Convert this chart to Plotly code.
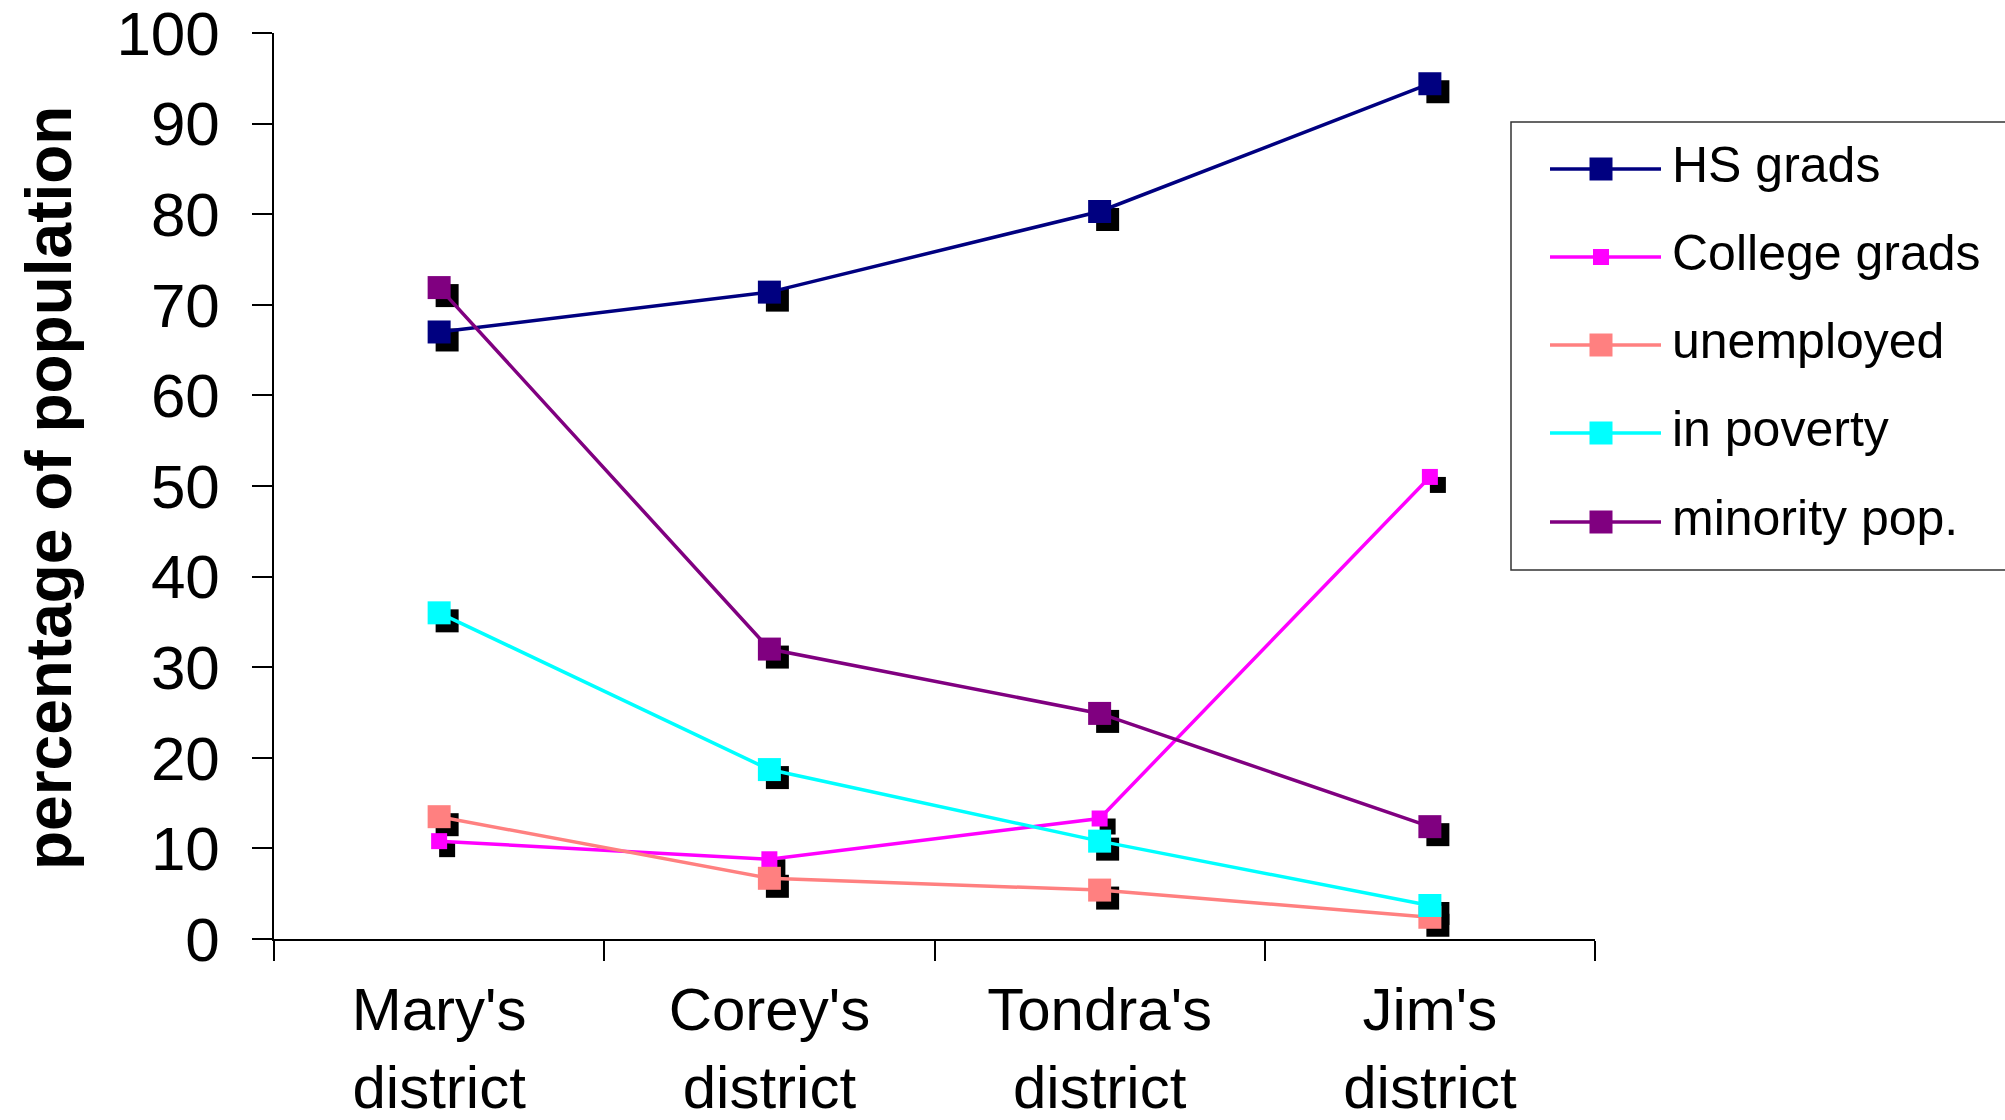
import plotly.graph_objects as go

# ---- data -------------------------------------------------------------
districts = ["Mary's<br>district", "Corey's<br>district", "Tondra's<br>district", "Jim's<br>district"]
series_names = ["HS grads", "College grads", "unemployed", "in poverty", "minority pop."]
hs_grads = [67.0, 71.4, 80.3, 94.4]
college_grads = [10.8, 8.8, 13.3, 51.0]
unemployed = [13.5, 6.7, 5.4, 2.4]
in_poverty = [36.0, 18.7, 10.8, 3.7]
minority_pop = [71.9, 32.0, 24.9, 12.4]
y_ticks = [0, 10, 20, 30, 40, 50, 60, 70, 80, 90, 100]

values = [hs_grads, college_grads, unemployed, in_poverty, minority_pop]
colors = ["#000080", "#FF00FF", "#FF8080", "#00FFFF", "#800080"]
msizes = [23, 16, 23, 23, 23]

# ---- geometry (pixels) ------------------------------------------------
W, H = 2005, 1120
L, R, T, B = 274, 2005 - 1595, 33, 1120 - 939
PW, PH = W - L - R, H - T - B
SHADOW = 8  # drop-shadow offset in px

def xp(px):
    return (px - L) / PW

def yp(py):
    return (H - B - py) / PH

FONT = "Liberation Sans, Arial, sans-serif"

fig = go.Figure()

# drop shadows: on the base axes, whose ranges are shifted by a few pixels
for vals, size in zip(values, msizes):
    fig.add_trace(go.Scatter(
        x=districts, y=vals, mode="markers", xaxis="x", yaxis="y",
        marker=dict(symbol="square", size=size, color="black", line=dict(width=0)),
        showlegend=False, hoverinfo="skip"))

# series lines and markers on the visible overlaid axes (drawn on top)
for name, vals, col, size in zip(series_names, values, colors, msizes):
    fig.add_trace(go.Scatter(
        x=districts, y=vals, mode="lines+markers", name=name,
        xaxis="x2", yaxis="y2",
        line=dict(color=col, width=3.5),
        marker=dict(symbol="square", size=size, color=col, line=dict(width=0)),
        showlegend=False))

n_cat = len(districts)
cat_px = PW / n_cat
y_span = y_ticks[-1] - y_ticks[0]
dx = SHADOW / cat_px
dy = SHADOW * y_span / PH

axis_common = dict(showgrid=False, zeroline=False, automargin=False)
fig.update_layout(
    width=W, height=H,
    margin=dict(l=L, r=R, t=T, b=B),
    paper_bgcolor="white", plot_bgcolor="white",
    font=dict(family=FONT, color="black"),
    xaxis=dict(type="category", categoryorder="array", categoryarray=districts,
               range=[-0.5 - dx, n_cat - 0.5 - dx], visible=False, **axis_common),
    yaxis=dict(range=[y_ticks[0] + dy, y_ticks[-1] + dy], visible=False, **axis_common),
    xaxis2=dict(type="category", categoryorder="array", categoryarray=districts,
                overlaying="x", side="bottom", anchor="y2",
                range=[-0.5, n_cat - 0.5], tickson="boundaries",
                ticks="outside", ticklen=20, tickwidth=1.5, tickcolor="black",
                showline=True, linecolor="black", linewidth=1.5,
                ticklabelstandoff=17, ticklabeloverflow="allow",
                tickfont=dict(size=60, family=FONT), **axis_common),
    yaxis2=dict(overlaying="y", side="left", anchor="x2",
                range=[y_ticks[0], y_ticks[-1]], tickvals=y_ticks,
                ticks="outside", ticklen=20, tickwidth=1.5, tickcolor="black",
                showline=True, linecolor="black", linewidth=1.5,
                ticklabelstandoff=20, ticklabeloverflow="allow",
                tickfont=dict(size=62, family=FONT), **axis_common),
    showlegend=False,
)

# y-axis title
fig.add_annotation(
    text="<b>percentage of population</b>", textangle=-90,
    xref="paper", yref="paper", x=xp(49), y=yp(488),
    xanchor="center", yanchor="middle", showarrow=False,
    font=dict(size=64, family=FONT, color="black"))

# legend box
shapes = [dict(type="rect", xref="paper", yref="paper",
               x0=xp(1511), x1=xp(2015), y0=yp(570), y1=yp(122),
               line=dict(color="#333333", width=1.5), fillcolor="white", layer="above")]
row_y = [169, 257, 345, 433, 522]
for name, col, size, ry in zip(series_names, colors, msizes, row_y):
    shapes.append(dict(type="line", xref="paper", yref="paper",
                       x0=xp(1550), x1=xp(1661), y0=yp(ry), y1=yp(ry),
                       line=dict(color=col, width=3.5), layer="above"))
    shapes.append(dict(type="rect", xref="paper", yref="paper",
                       xsizemode="pixel", ysizemode="pixel",
                       xanchor=xp(1601), yanchor=yp(ry),
                       x0=-size / 2, x1=size / 2, y0=-size / 2, y1=size / 2,
                       line=dict(width=0), fillcolor=col, layer="above"))
    fig.add_annotation(text=name, xref="paper", yref="paper",
                       x=xp(1670), y=yp(ry - 4), xanchor="left", yanchor="middle",
                       showarrow=False, font=dict(size=50, family=FONT, color="black"))
fig.update_layout(shapes=shapes)

fig.write_html("out.html")
